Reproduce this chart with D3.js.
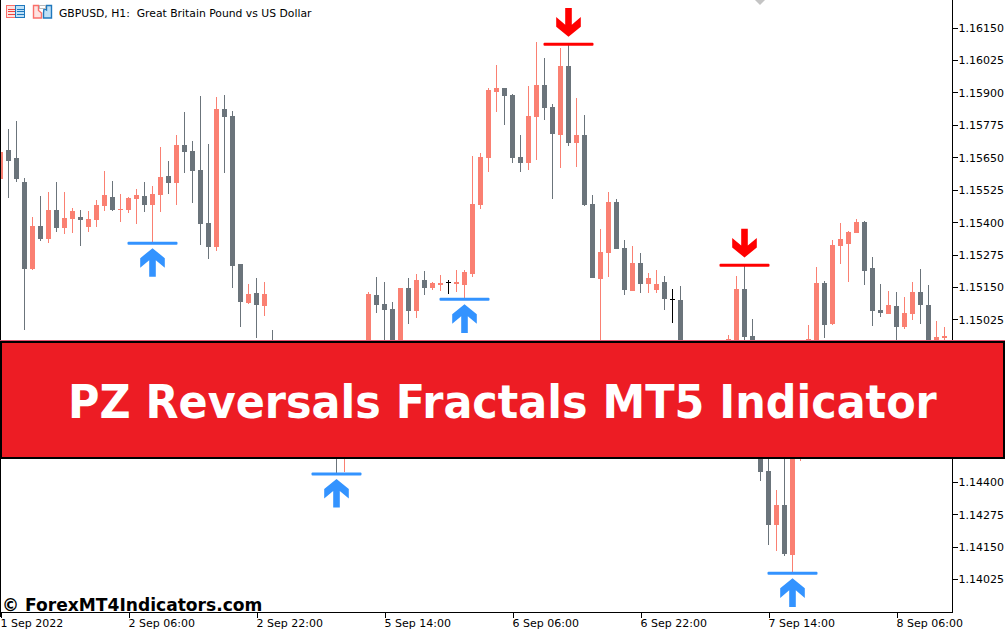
<!DOCTYPE html>
<html>
<head>
<meta charset="utf-8">
<script src="https://cdn.jsdelivr.net/npm/d3@7/dist/d3.min.js"></script>
<style>
html,body{margin:0;padding:0;background:#fff;overflow:hidden}
svg{display:block}
text{font-family:"DejaVu Sans",sans-serif}
</style>
</head>
<body>
<svg id="c" width="1005" height="631"></svg>
<script>
// Prices in MT5 points (1 point = 0.00001). Bar index is the array position. Values hidden by the banner are estimates.
const opens = [115566,115678,115647,115555,115220,115385,115335,115447,115378,115412,115420,115381,115408,115462,115497,115447,115447,115489,115501,115466,115505,115578,115551,115697,115674,115601,115397,115304,115836,115809,115239,115089,115127,115077,114860,114870,114790,114730,114770,114670,114600,114650,114560,114500,114610,114730,114800,115120,115085,115065,114850,115146,115058,115177,115146,115158,115170,115162,115158,115200,115466,115647,115902,115917,115890,115651,115628,115805,115928,115844,115736,116002,115705,115736,115470,115181,115281,115478,115301,115135,115243,115162,115139,115170,115103,115100,114900,114810,114760,114830,114890,114800,114800,115143,114961,114650,114441,114233,114310,114118,114650,114700,114700,115166,115008,115308,115316,115358,115401,115223,115062,115046,115077,114996,115046,115131,115081,114880,114954];
const highs = [115678,115759,115790,115569,115420,115501,115516,115555,115516,115455,115447,115443,115485,115597,115559,115509,115497,115528,115555,115539,115690,115636,115736,115824,115713,115886,115701,115882,115890,115828,115239,115162,115185,115170,114985,114920,114830,114800,114810,114710,114680,114690,114620,114640,114760,114880,115131,115189,115170,115092,115146,115185,115200,115212,115170,115197,115177,115216,115216,115655,115667,115917,116006,115917,115894,115736,115925,116094,116032,115855,116071,116083,115878,115813,115505,115374,115516,115489,115331,115308,115281,115204,115216,115193,115143,115154,114930,114850,114860,114920,114930,114965,115193,115231,115027,114800,114600,114368,114600,114860,114800,115004,115227,115173,115331,115397,115366,115412,115405,115266,115162,115135,115131,115112,115170,115220,115158,115019,114996];
const lows = [115563,115494,115555,114986,115216,115328,115320,115362,115354,115358,115308,115362,115381,115443,115443,115401,115435,115393,115439,115324,115439,115509,115466,115589,115474,115312,115258,115289,115589,115146,114996,115085,114954,115039,114800,114760,114700,114690,114640,114570,114560,114530,114432,114436,114560,114690,114760,115050,114880,114800,114830,115008,115031,115120,115139,115135,115123,115131,115104,115189,115451,115593,115824,115774,115628,115593,115601,115640,115794,115489,115609,115693,115613,115462,115185,114880,115189,115297,115120,115135,115127,115127,115127,115062,115012,114860,114780,114720,114730,114790,114770,114770,114780,114946,114700,114404,114156,114133,114114,114051,114480,114660,114650,114954,115004,115239,115170,115358,115158,115000,115035,115046,114900,114988,115023,115008,114830,114850,114900];
const closes = [115670,115637,115566,115221,115385,115335,115447,115378,115416,115443,115408,115412,115466,115505,115447,115451,115493,115505,115466,115509,115574,115551,115697,115670,115597,115393,115304,115836,115805,115231,115092,115123,115081,115123,114790,114790,114730,114770,114670,114600,114650,114560,114500,114610,114730,114850,115123,115081,115062,114850,115146,115058,115177,115146,115166,115166,115170,115170,115208,115470,115651,115909,115917,115886,115647,115628,115809,115928,115840,115740,116002,115705,115736,115466,115185,115285,115478,115297,115139,115243,115162,115185,115162,115104,115103,114900,114810,114760,114830,114890,114800,114950,115143,114958,114750,114439,114233,114310,114122,114780,114760,114950,115166,115004,115312,115335,115362,115401,115212,115058,115050,115081,114996,115050,115131,115081,114880,114958,114961];

const buyBars = [19,42,58,99];
const buyPrices = [115319,114430,115103,114047];
const sellBars = [71,93];
const sellPrices = [116085,115234];

const priceTicks = [116150,116025,115900,115775,115650,115525,115400,115275,115150,115025,114900,114775,114650,114525,114400,114275,114150,114025];
const timeTickBars = [0,16,32,48,64,80,96,112];
const timeTickLabels = ["1 Sep 2022","2 Sep 06:00","2 Sep 22:00","5 Sep 14:00","6 Sep 06:00","6 Sep 22:00","7 Sep 14:00","8 Sep 06:00"];

const chartTitle = "GBPUSD, H1:  Great Britain Pound vs US Dollar";
const bannerTitle = "PZ Reversals Fractals MT5 Indicator";
const watermark = "© ForexMT4Indicators.com";

const W = 1005, H = 631, plotR = 952, plotB = 612;
const UP = "#fa8072", DOWN = "#6b747b", DOJI = "#000000", BUY = "#3393ff", SELL = "#ff0000";

const svg = d3.select("#c");
svg.append("rect").attr("width",W).attr("height",H).attr("fill","#fff");

const x = d3.scaleLinear().domain([0,119]).range([0.5,952.5]);
const y = d3.scaleLinear().domain([116150,114025]).range([27.5,579.0]);

svg.append("defs").append("clipPath").attr("id","plot")
  .append("rect").attr("x",1).attr("y",0).attr("width",plotR-1).attr("height",plotB);

const plot = svg.append("g").attr("clip-path","url(#plot)");

const bars = d3.range(opens.length).map(i => ({i,o:opens[i],h:highs[i],l:lows[i],c:closes[i]}));
const colorOf = d => d.c === d.o ? DOJI : (d.c > d.o ? UP : DOWN);

plot.append("g").selectAll("rect").data(bars).join("rect")
  .attr("x",d=>Math.floor(x(d.i)))
  .attr("width",1)
  .attr("y",d=>Math.round(y(d.h)))
  .attr("height",d=>Math.max(1,Math.round(y(d.l))-Math.round(y(d.h))))
  .attr("fill",colorOf)
  .attr("shape-rendering","crispEdges");

plot.append("g").selectAll("rect").data(bars).join("rect")
  .attr("x",d=>Math.floor(x(d.i))-2)
  .attr("width",5)
  .attr("y",d=>Math.round(y(Math.max(d.o,d.c))))
  .attr("height",d=>Math.max(1,Math.round(y(Math.min(d.o,d.c)))-Math.round(y(Math.max(d.o,d.c)))))
  .attr("fill",colorOf)
  .attr("shape-rendering","crispEdges");

// Signal markers: horizontal level plus arrow
const arrowUp = "M0,0 L12.3,10 L12.3,19.6 L3.3,12 L3.3,28.7 L-3.3,28.7 L-3.3,12 L-12.3,19.6 L-12.3,10 Z";
const signals = [
  ...buyBars.map((b,i)=>({bar:b,price:buyPrices[i],kind:"buy"})),
  ...sellBars.map((b,i)=>({bar:b,price:sellPrices[i],kind:"sell"}))
];
const sig = plot.append("g").selectAll("g").data(signals).join("g")
  .attr("transform",d=>`translate(${x(d.bar)},${y(d.price)})`);
sig.append("rect").attr("x",-25).attr("y",-1.5).attr("width",50).attr("height",3).attr("rx",1)
  .attr("fill",d=>d.kind==="buy"?BUY:SELL);
sig.append("path")
  .attr("d",arrowUp)
  .attr("transform",d=>d.kind==="buy"?"translate(0,5)":"translate(0,-7.7) scale(1,-1)")
  .attr("fill",d=>d.kind==="buy"?BUY:SELL);

// small grey trade marker clipped by the top edge
plot.append("path").attr("d",d3.line()([[755,0],[765,0],[760,5]])+"Z").attr("fill","#c4c4c4");

// Frame and axes
const frame = svg.append("g");
const rightAxis = d3.axisRight(y).tickValues(priceTicks).tickSize(5).tickPadding(1)
  .tickFormat(d=>(d/1e5).toFixed(5));
const ra = svg.append("g").attr("transform",`translate(${plotR+0.5},0)`).call(rightAxis);
ra.select(".domain").remove();
ra.selectAll("line").attr("stroke","#000").attr("shape-rendering","crispEdges");
ra.selectAll("text").attr("fill","#000").style("font-size","11px").attr("dy","0.36em");

const barTick = d3.scaleOrdinal().domain(timeTickBars).range(timeTickLabels);
const bottomAxis = d3.axisBottom(x).tickValues(timeTickBars).tickSize(5).tickFormat(d=>barTick(d));
const ba = svg.append("g").attr("transform",`translate(0,${plotB+0.5})`).call(bottomAxis);
ba.select(".domain").remove();
ba.selectAll("line").attr("stroke","#000").attr("shape-rendering","crispEdges");
ba.selectAll("text").attr("fill","#000").style("font-size","11px")
  .attr("text-anchor","start").attr("y",4).attr("dy","0.95em").attr("x",-0.5);

frame.append("rect").attr("x",0).attr("y",0).attr("width",1).attr("height",plotB+5).attr("fill","#000");
frame.append("rect").attr("x",plotR).attr("y",0).attr("width",1).attr("height",plotB+1).attr("fill","#000");
frame.append("rect").attr("x",0).attr("y",plotB).attr("width",plotR+1).attr("height",1).attr("fill","#000");

// Top-left toolbar icons
const icons = svg.append("g").attr("shape-rendering","crispEdges");
icons.append("rect").attr("x",6.5).attr("y",5.5).attr("width",9).attr("height",12).attr("fill","#fde3e1").attr("stroke","#fa6f6a").attr("stroke-width",1.4);
icons.append("rect").attr("x",15.5).attr("y",5.5).attr("width",9).attr("height",12).attr("fill","#bfe0f6").attr("stroke","#1f78bd").attr("stroke-width",1.4);
[8.5,11,14].forEach(v=>{
  icons.append("rect").attr("x",8).attr("y",v).attr("width",7).attr("height",1).attr("fill","#f0443e");
  icons.append("rect").attr("x",17).attr("y",v).attr("width",7).attr("height",1).attr("fill","#1f78bd");
});
const icon2 = svg.append("g");
icon2.append("path").attr("d","M33.5,5.5 H38.5 V10.5 L41.5,13 V18 H33.5 Z").attr("fill","#fde3e1").attr("stroke","#fa6f6a").attr("stroke-width",1.4);
icon2.append("path").attr("d","M44,8.5 L46.5,10 V5.5 H51.5 V18 H43.5 V13 Z").attr("fill","#bfe0f6").attr("stroke","#1f78bd").attr("stroke-width",1.4);
icon2.append("rect").attr("x",39.5).attr("y",5.5).attr("width",6).attr("height",3).attr("fill","#fff").attr("stroke","#b9b9b9");

svg.append("text").attr("x",59).attr("y",17).attr("fill","#000").style("font-size","10.8px").style("white-space","pre").text(chartTitle);

// Watermark
svg.append("text").attr("x",2).attr("y",611).style("font-size","17.1px").style("font-weight","bold").attr("fill","#000").text(watermark);

// Banner over the chart
const banner = svg.append("g");
banner.append("rect").attr("x",0).attr("y",340).attr("width",W).attr("height",1).attr("fill","#e0506e");
banner.append("rect").attr("x",0).attr("y",341).attr("width",W).attr("height",118).attr("fill","#000");
banner.append("rect").attr("x",2).attr("y",343).attr("width",1001).attr("height",114).attr("fill","#ed1c24");
const bannerText = banner.append("text").attr("x",0).attr("y",0)
  .attr("fill","#fff").style("font-size","47px").style("font-weight","bold").text(bannerTitle);
const squeeze = 869 / bannerText.node().getComputedTextLength();
bannerText.attr("transform",`translate(68,418) scale(${squeeze},1)`);
</script>
</body>
</html>
